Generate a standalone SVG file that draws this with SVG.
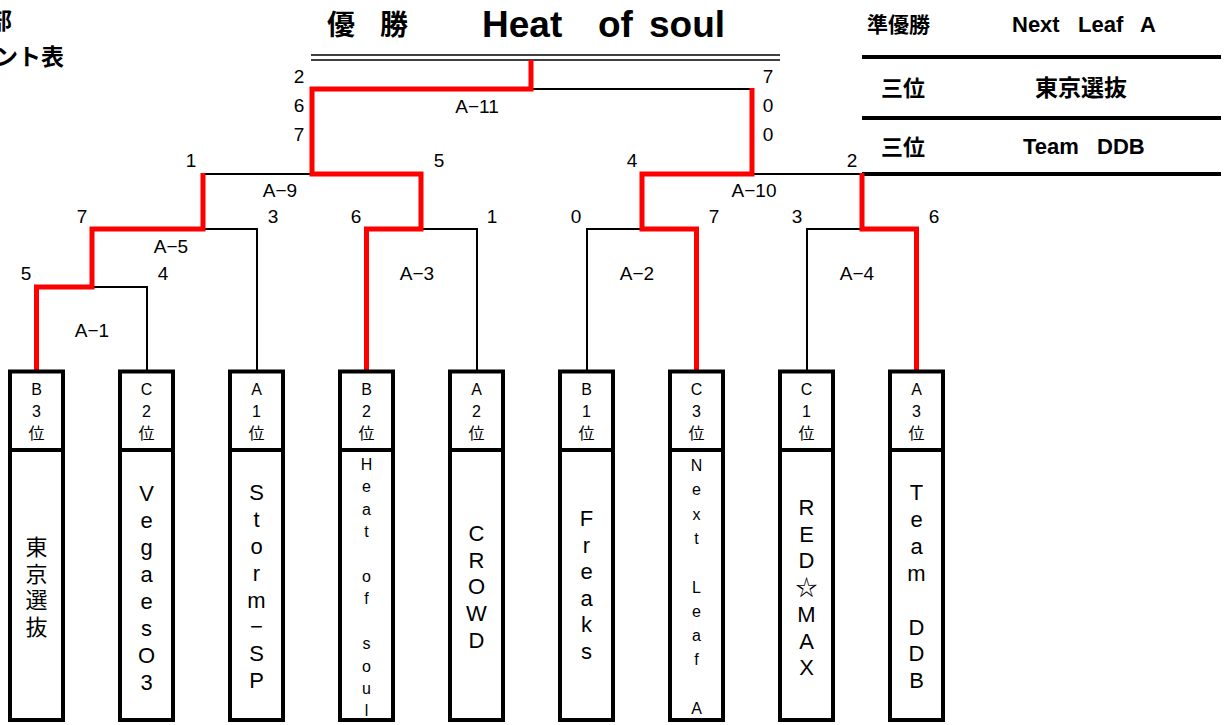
<svg xmlns="http://www.w3.org/2000/svg" width="1231" height="725" viewBox="0 0 1231 725">
<style>
text{font-family:"Liberation Sans","Noto Sans CJK JP",sans-serif;fill:#000}
.box{fill:#fff;stroke:#000;stroke-width:4}
.div{stroke:#000;stroke-width:4}
.hd{font-size:16px;text-anchor:middle}
.bd{font-size:22px;text-anchor:middle}
.sm{font-size:16px;text-anchor:middle}
.sc{font-size:19px;text-anchor:middle}
.blk{fill:none;stroke:#000;stroke-width:2}
.red{fill:none;stroke:#f00;stroke-width:5;stroke-linejoin:miter}
.tb{stroke:#000;stroke-width:4}
.bold{font-weight:bold}
</style>
<rect width="1231" height="725" fill="#fff"/>
<g id="title">
<text x="-11" y="29" class="bold" font-size="23">部</text>
<text x="64" y="65" class="bold" font-size="23" text-anchor="end">ント表</text>
<text y="35" class="bold" font-size="28"><tspan x="327">優</tspan><tspan x="380">勝</tspan></text>
<text y="37" font-size="37" font-weight="bold"><tspan x="482">Heat</tspan><tspan x="598">of</tspan><tspan x="649">soul</tspan></text>
<line x1="311" y1="55" x2="780" y2="55" stroke="#000" stroke-width="1.6"/>
<line x1="311" y1="60" x2="780" y2="60" stroke="#000" stroke-width="1.6"/>
</g>
<g id="results">
<line x1="862" y1="57" x2="1221" y2="57" class="tb"/>
<line x1="862" y1="118" x2="1221" y2="118" class="tb"/>
<line x1="862" y1="174" x2="1221" y2="174" class="tb"/>
<text x="867" y="32" class="bold" font-size="21">準優勝</text>
<text y="32" class="bold" font-size="22"><tspan x="1012">Next</tspan><tspan x="1078">Leaf</tspan><tspan x="1140">A</tspan></text>
<text x="881" y="96" class="bold" font-size="22">三位</text>
<text x="1035" y="96" class="bold" font-size="23">東京選抜</text>
<text x="881" y="155" class="bold" font-size="22">三位</text>
<text y="154" class="bold" font-size="22"><tspan x="1023">Team</tspan><tspan x="1097">DDB</tspan></text>
</g>
<g id="connectors">
<path class="blk" d="M94 287H147V371"/>
<path class="blk" d="M203 229H257V371"/>
<path class="blk" d="M203 174H312"/>
<path class="blk" d="M421 229H477V371"/>
<path class="blk" d="M531 89H752"/>
<path class="blk" d="M587 371V229H642"/>
<path class="blk" d="M752 174H862"/>
<path class="blk" d="M807 371V229H862"/>
<path class="red" d="M36.5 371V287H92V229H203V173"/>
<path class="red" d="M366.5 371V229H421V174H312V89H531V60"/>
<path class="red" d="M696.5 371V229H642V174H752V88"/>
<path class="red" d="M916.5 371V229H862V173"/>
</g>
<g id="scores">
<text class="sc" x="299" y="83">2</text>
<text class="sc" x="299" y="112">6</text>
<text class="sc" x="299" y="141">7</text>
<text class="sc" x="768" y="83">7</text>
<text class="sc" x="768" y="112">0</text>
<text class="sc" x="768" y="141">0</text>
<text class="sc" x="477" y="113">A−11</text>
<text class="sc" x="191" y="167">1</text>
<text class="sc" x="439" y="167">5</text>
<text class="sc" x="632" y="167">4</text>
<text class="sc" x="852" y="167">2</text>
<text class="sc" x="280" y="197">A−9</text>
<text class="sc" x="754" y="197">A−10</text>
<text class="sc" x="82" y="223">7</text>
<text class="sc" x="273" y="223">3</text>
<text class="sc" x="356" y="223">6</text>
<text class="sc" x="492" y="223">1</text>
<text class="sc" x="576" y="223">0</text>
<text class="sc" x="714" y="223">7</text>
<text class="sc" x="797" y="223">3</text>
<text class="sc" x="934" y="223">6</text>
<text class="sc" x="171" y="253">A−5</text>
<text class="sc" x="26" y="280">5</text>
<text class="sc" x="163" y="280">4</text>
<text class="sc" x="417" y="280">A−3</text>
<text class="sc" x="637" y="280">A−2</text>
<text class="sc" x="857" y="280">A−4</text>
<text class="sc" x="92" y="337">A−1</text>
</g>
<g id="team-b3">
<rect class="box" x="10" y="371.5" width="53" height="348.5"/><line class="div" x1="10" y1="450" x2="63" y2="450"/>
<text class="hd"><tspan x="36.5" y="395">B</tspan><tspan x="36.5" y="417">3</tspan><tspan x="36.5" y="439">位</tspan></text>
<text class="bd"><tspan x="36.5" y="555">東</tspan><tspan x="36.5" y="582">京</tspan><tspan x="36.5" y="608">選</tspan><tspan x="36.5" y="635">抜</tspan></text>
</g>
<g id="team-c2">
<rect class="box" x="120" y="371.5" width="53" height="348.5"/><line class="div" x1="120" y1="450" x2="173" y2="450"/>
<text class="hd"><tspan x="146.5" y="395">C</tspan><tspan x="146.5" y="417">2</tspan><tspan x="146.5" y="439">位</tspan></text>
<text class="bd"><tspan x="146.5" y="501">V</tspan><tspan x="146.5" y="528">e</tspan><tspan x="146.5" y="555">g</tspan><tspan x="146.5" y="582">a</tspan><tspan x="146.5" y="609">e</tspan><tspan x="146.5" y="636">s</tspan><tspan x="146.5" y="663">O</tspan><tspan x="146.5" y="690">3</tspan></text>
</g>
<g id="team-a1">
<rect class="box" x="230" y="371.5" width="53" height="348.5"/><line class="div" x1="230" y1="450" x2="283" y2="450"/>
<text class="hd"><tspan x="256.5" y="395">A</tspan><tspan x="256.5" y="417">1</tspan><tspan x="256.5" y="439">位</tspan></text>
<text class="bd"><tspan x="256.5" y="500">S</tspan><tspan x="256.5" y="527">t</tspan><tspan x="256.5" y="554">o</tspan><tspan x="256.5" y="581">r</tspan><tspan x="256.5" y="608">m</tspan><tspan x="256.5" y="634">−</tspan><tspan x="256.5" y="661">S</tspan><tspan x="256.5" y="688">P</tspan></text>
</g>
<g id="team-b2">
<rect class="box" x="340" y="371.5" width="53" height="348.5"/><line class="div" x1="340" y1="450" x2="393" y2="450"/>
<text class="hd"><tspan x="366.5" y="395">B</tspan><tspan x="366.5" y="417">2</tspan><tspan x="366.5" y="439">位</tspan></text>
<text class="sm"><tspan x="366.5" y="470">H</tspan><tspan x="366.5" y="492.4">e</tspan><tspan x="366.5" y="514.8">a</tspan><tspan x="366.5" y="537.2">t</tspan><tspan x="366.5" y="582">o</tspan><tspan x="366.5" y="604.4">f</tspan><tspan x="366.5" y="649.2">s</tspan><tspan x="366.5" y="671.6">o</tspan><tspan x="366.5" y="694">u</tspan><tspan x="366.5" y="716">l</tspan></text>
</g>
<g id="team-a2">
<rect class="box" x="450" y="371.5" width="53" height="348.5"/><line class="div" x1="450" y1="450" x2="503" y2="450"/>
<text class="hd"><tspan x="476.5" y="395">A</tspan><tspan x="476.5" y="417">2</tspan><tspan x="476.5" y="439">位</tspan></text>
<text class="bd"><tspan x="476.5" y="541">C</tspan><tspan x="476.5" y="568">R</tspan><tspan x="476.5" y="594">O</tspan><tspan x="476.5" y="621">W</tspan><tspan x="476.5" y="648">D</tspan></text>
</g>
<g id="team-b1">
<rect class="box" x="560" y="371.5" width="53" height="348.5"/><line class="div" x1="560" y1="450" x2="613" y2="450"/>
<text class="hd"><tspan x="586.5" y="395">B</tspan><tspan x="586.5" y="417">1</tspan><tspan x="586.5" y="439">位</tspan></text>
<text class="bd"><tspan x="586.5" y="526">F</tspan><tspan x="586.5" y="552.5">r</tspan><tspan x="586.5" y="579">e</tspan><tspan x="586.5" y="605.5">a</tspan><tspan x="586.5" y="632">k</tspan><tspan x="586.5" y="658.5">s</tspan></text>
</g>
<g id="team-c3">
<rect class="box" x="670" y="371.5" width="53" height="348.5"/><line class="div" x1="670" y1="450" x2="723" y2="450"/>
<text class="hd"><tspan x="696.5" y="395">C</tspan><tspan x="696.5" y="417">3</tspan><tspan x="696.5" y="439">位</tspan></text>
<text class="sm"><tspan x="696.5" y="471">N</tspan><tspan x="696.5" y="495.3">e</tspan><tspan x="696.5" y="519.6">x</tspan><tspan x="696.5" y="543.9">t</tspan><tspan x="696.5" y="592.5">L</tspan><tspan x="696.5" y="616.8">e</tspan><tspan x="696.5" y="641.1">a</tspan><tspan x="696.5" y="665.4">f</tspan><tspan x="696.5" y="714">A</tspan></text>
</g>
<g id="team-c1">
<rect class="box" x="780" y="371.5" width="53" height="348.5"/><line class="div" x1="780" y1="450" x2="833" y2="450"/>
<text class="hd"><tspan x="806.5" y="395">C</tspan><tspan x="806.5" y="417">1</tspan><tspan x="806.5" y="439">位</tspan></text>
<text class="bd"><tspan x="806.5" y="515">R</tspan><tspan x="806.5" y="541.7">E</tspan><tspan x="806.5" y="568.4">D</tspan><tspan x="806.5" y="595.1">☆</tspan><tspan x="806.5" y="621.8">M</tspan><tspan x="806.5" y="648.5">A</tspan><tspan x="806.5" y="675">X</tspan></text>
</g>
<g id="team-a3">
<rect class="box" x="890" y="371.5" width="53" height="348.5"/><line class="div" x1="890" y1="450" x2="943" y2="450"/>
<text class="hd"><tspan x="916.5" y="395">A</tspan><tspan x="916.5" y="417">3</tspan><tspan x="916.5" y="439">位</tspan></text>
<text class="bd"><tspan x="916.5" y="500">T</tspan><tspan x="916.5" y="527">e</tspan><tspan x="916.5" y="554">a</tspan><tspan x="916.5" y="581">m</tspan><tspan x="916.5" y="634.5">D</tspan><tspan x="916.5" y="661.4">D</tspan><tspan x="916.5" y="688">B</tspan></text>
</g>
</svg>
